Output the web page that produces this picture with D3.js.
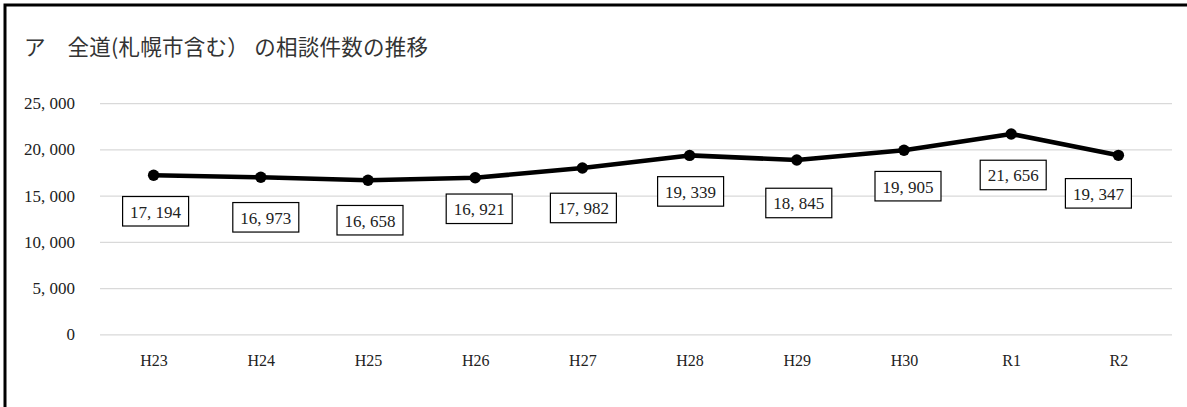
<!DOCTYPE html>
<html><head><meta charset="utf-8">
<script src="https://cdn.jsdelivr.net/npm/d3@7"></script>
<style>html,body{margin:0;padding:0;background:#fff;}svg{display:block;}</style>
</head><body>
<svg id="chart" width="1187" height="407"></svg>
<script>
const titleText = "ア　全道(札幌市含む） の相談件数の推移";
const categories = ["H23","H24","H25","H26","H27","H28","H29","H30","R1","R2"];
const counts = [17194,16973,16658,16921,17982,19339,18845,19905,21656,19347];
const yTicks = [0,5000,10000,15000,20000,25000];
// label box nudges relative to each point (layout only)
const labelNudgeX = [2,5,2,4,1,1,2,4,2,-20];
const labelNudgeY = [36,40,40,31,40,36,43,36,41,38];

const svg = d3.select("#chart");
const W = 1187, H = 407;
const serif = "'Liberation Serif','DejaVu Serif','Noto Sans CJK JP',serif";

// frame (top & left)
svg.append("path").attr("d", `M5,${H} L5,5 L${W},5`).attr("fill","none")
  .attr("stroke","#000").attr("stroke-width",3);

svg.append("text").attr("x",24).attr("y",45).attr("dominant-baseline","central")
  .attr("font-family","'Noto Sans CJK JP',sans-serif").attr("font-size",21.5)
  .attr("textLength",404).attr("lengthAdjust","spacing")
  .attr("fill","#333").text(titleText);

const x = d3.scalePoint().domain(categories).range([100,1172]).padding(0.5);
const y = d3.scaleLinear().domain([0,25000]).range([334.3,103.05]);

const fmt = v => d3.format(",")(v).replace(/,/g, ", ");

// gridlines
const yAxis = d3.axisLeft(y).tickValues(yTicks).tickSize(-1072).tickFormat(fmt).tickPadding(25);
const gy = svg.append("g").attr("transform","translate(100,0)").call(yAxis);
gy.select(".domain").remove();
gy.selectAll(".tick line").attr("stroke","#d9d9d9").attr("stroke-width",1.3);
gy.selectAll(".tick text").attr("font-family",serif).attr("font-size",17).attr("fill","#222");

const xAxis = d3.axisBottom(x).tickSize(0).tickPadding(20);
const gx = svg.append("g").attr("transform","translate(0,334.3)").call(xAxis);
gx.select(".domain").remove();
gx.selectAll(".tick text").attr("font-family",serif).attr("font-size",16).attr("fill","#222");

const data = categories.map((c,i)=>({c, v:counts[i], i}));

svg.append("path").datum(data)
  .attr("d", d3.line().x(d=>x(d.c)).y(d=>y(d.v)))
  .attr("fill","none").attr("stroke","#000").attr("stroke-width",4.6).attr("stroke-linejoin","round");

svg.selectAll("circle.pt").data(data).join("circle").attr("class","pt")
  .attr("cx",d=>x(d.c)).attr("cy",d=>y(d.v)).attr("r",5.7).attr("fill","#000");

const lab = svg.selectAll("g.lab").data(data).join("g").attr("class","lab")
  .attr("transform",d=>`translate(${x(d.c)+labelNudgeX[d.i]},${y(d.v)+labelNudgeY[d.i]})`);
lab.append("rect").attr("x",-33).attr("y",-14.75).attr("width",66).attr("height",29.5)
  .attr("fill","#fff").attr("stroke","#000").attr("stroke-width",1.2);
lab.append("text").attr("text-anchor","middle").attr("dominant-baseline","central").attr("y",1)
  .attr("font-family",serif).attr("font-size",17).attr("fill","#222").text(d=>fmt(d.v));
</script>
</body></html>
